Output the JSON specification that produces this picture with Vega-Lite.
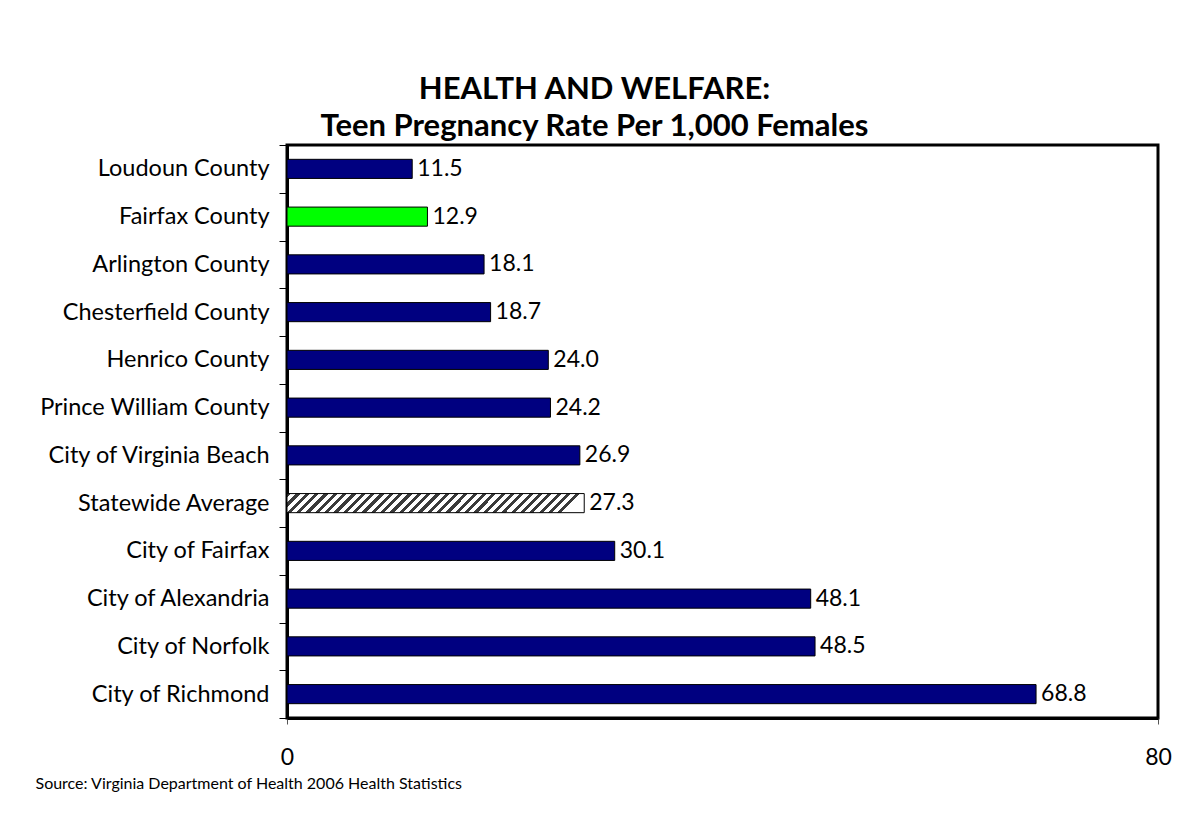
{
  "$schema": "https://vega.github.io/schema/vega-lite/v6.json",
  "width": 871,
  "height": 573,
  "autosize": {"type": "none"},
  "padding": {"left": 287, "top": 145, "right": 30, "bottom": 98},
  "background": "white",
  "title": {
    "text": ["HEALTH AND WELFARE:", "Teen Pregnancy Rate Per 1,000 Females"],
    "font": "Lato",
    "fontSize": 31,
    "fontWeight": "bold",
    "color": "black",
    "anchor": "middle",
    "frame": "group",
    "dx": -128,
    "lineHeight": 37,
    "offset": -10
  },
  "data": {
    "values": [
      {"name": "Loudoun County", "rate": 11.5},
      {"name": "Fairfax County", "rate": 12.9},
      {"name": "Arlington County", "rate": 18.1},
      {"name": "Chesterfield County", "rate": 18.7},
      {"name": "Henrico County", "rate": 24.0},
      {"name": "Prince William County", "rate": 24.2},
      {"name": "City of Virginia Beach", "rate": 26.9},
      {"name": "Statewide Average", "rate": 27.3},
      {"name": "City of Fairfax", "rate": 30.1},
      {"name": "City of Alexandria", "rate": 48.1},
      {"name": "City of Norfolk", "rate": 48.5},
      {"name": "City of Richmond", "rate": 68.8}
    ]
  },
  "encoding": {
    "y": {
      "field": "name",
      "type": "nominal",
      "sort": ["Loudoun County", "Fairfax County", "Arlington County", "Chesterfield County", "Henrico County", "Prince William County", "City of Virginia Beach", "Statewide Average", "City of Fairfax", "City of Alexandria", "City of Norfolk", "City of Richmond"],
      "scale": {"paddingInner": 0, "paddingOuter": 0},
      "axis": {
        "title": null,
        "tickBand": "extent",
        "tickSize": 8,
        "tickColor": "black",
        "tickWidth": 1,
        "domainColor": "black",
        "domainWidth": 3,
        "labelFont": "Lato",
        "labelFontSize": 23.5,
        "labelColor": "black",
        "labelPadding": 10,
        "labelLimit": 400,
        "grid": false
      }
    },
    "x": {
      "field": "rate",
      "type": "quantitative",
      "scale": {"domain": [0, 80], "nice": false, "zero": true},
      "axis": {
        "values": [0, 80],
        "grid": false,
        "tickSize": 6,
        "tickColor": "#555",
        "tickWidth": 1,
        "domainColor": "black",
        "domainWidth": 3,
        "labelFont": "Lato",
        "labelFontSize": 23,
        "labelColor": "black",
        "labelPadding": 22,
        "labelFlush": false,
        "title": "Source: Virginia Department of Health 2006 Health Statistics",
        "titleFont": "Lato",
        "titleFontSize": 16,
        "titleFontWeight": "normal",
        "titleColor": "black",
        "titleAnchor": "start",
        "titleAlign": "left",
        "titleBaseline": "middle",
        "titleX": -252,
        "titleY": 65
      }
    }
  },
  "layer": [
    {
      "transform": [{"filter": "datum.name !== 'Statewide Average'"}],
      "mark": {"type": "bar", "stroke": "black", "strokeWidth": 1, "height": {"band": 0.4}},
      "encoding": {
        "fill": {
          "condition": {"test": "datum.name === 'Fairfax County'", "value": "#00FF00"},
          "value": "#000080"
        }
      }
    },
    {
      "transform": [{"filter": "datum.name === 'Statewide Average'"}],
      "mark": {
        "type": "bar",
        "stroke": "black",
        "strokeWidth": 1,
        "height": {"band": 0.4},
        "fill": {
          "gradient": "linear",
          "x1": 0, "y1": 0, "x2": 1, "y2": 0.064,
          "stops": [
            {"offset": 0, "color": "#3a3a3a"}, {"offset": 0.0141, "color": "#3a3a3a"}, {"offset": 0.0141, "color": "white"}, {"offset": 0.0313, "color": "white"},
            {"offset": 0.0313, "color": "#3a3a3a"}, {"offset": 0.0453, "color": "#3a3a3a"}, {"offset": 0.0453, "color": "white"}, {"offset": 0.0625, "color": "white"},
            {"offset": 0.0625, "color": "#3a3a3a"}, {"offset": 0.0766, "color": "#3a3a3a"}, {"offset": 0.0766, "color": "white"}, {"offset": 0.0938, "color": "white"},
            {"offset": 0.0938, "color": "#3a3a3a"}, {"offset": 0.1078, "color": "#3a3a3a"}, {"offset": 0.1078, "color": "white"}, {"offset": 0.125, "color": "white"},
            {"offset": 0.125, "color": "#3a3a3a"}, {"offset": 0.1391, "color": "#3a3a3a"}, {"offset": 0.1391, "color": "white"}, {"offset": 0.1563, "color": "white"},
            {"offset": 0.1563, "color": "#3a3a3a"}, {"offset": 0.1703, "color": "#3a3a3a"}, {"offset": 0.1703, "color": "white"}, {"offset": 0.1875, "color": "white"},
            {"offset": 0.1875, "color": "#3a3a3a"}, {"offset": 0.2016, "color": "#3a3a3a"}, {"offset": 0.2016, "color": "white"}, {"offset": 0.2188, "color": "white"},
            {"offset": 0.2188, "color": "#3a3a3a"}, {"offset": 0.2328, "color": "#3a3a3a"}, {"offset": 0.2328, "color": "white"}, {"offset": 0.25, "color": "white"},
            {"offset": 0.25, "color": "#3a3a3a"}, {"offset": 0.2641, "color": "#3a3a3a"}, {"offset": 0.2641, "color": "white"}, {"offset": 0.2813, "color": "white"},
            {"offset": 0.2813, "color": "#3a3a3a"}, {"offset": 0.2953, "color": "#3a3a3a"}, {"offset": 0.2953, "color": "white"}, {"offset": 0.3125, "color": "white"},
            {"offset": 0.3125, "color": "#3a3a3a"}, {"offset": 0.3266, "color": "#3a3a3a"}, {"offset": 0.3266, "color": "white"}, {"offset": 0.3438, "color": "white"},
            {"offset": 0.3438, "color": "#3a3a3a"}, {"offset": 0.3578, "color": "#3a3a3a"}, {"offset": 0.3578, "color": "white"}, {"offset": 0.375, "color": "white"},
            {"offset": 0.375, "color": "#3a3a3a"}, {"offset": 0.3891, "color": "#3a3a3a"}, {"offset": 0.3891, "color": "white"}, {"offset": 0.4063, "color": "white"},
            {"offset": 0.4063, "color": "#3a3a3a"}, {"offset": 0.4203, "color": "#3a3a3a"}, {"offset": 0.4203, "color": "white"}, {"offset": 0.4375, "color": "white"},
            {"offset": 0.4375, "color": "#3a3a3a"}, {"offset": 0.4516, "color": "#3a3a3a"}, {"offset": 0.4516, "color": "white"}, {"offset": 0.4688, "color": "white"},
            {"offset": 0.4688, "color": "#3a3a3a"}, {"offset": 0.4828, "color": "#3a3a3a"}, {"offset": 0.4828, "color": "white"}, {"offset": 0.5, "color": "white"},
            {"offset": 0.5, "color": "#3a3a3a"}, {"offset": 0.5141, "color": "#3a3a3a"}, {"offset": 0.5141, "color": "white"}, {"offset": 0.5313, "color": "white"},
            {"offset": 0.5313, "color": "#3a3a3a"}, {"offset": 0.5453, "color": "#3a3a3a"}, {"offset": 0.5453, "color": "white"}, {"offset": 0.5625, "color": "white"},
            {"offset": 0.5625, "color": "#3a3a3a"}, {"offset": 0.5766, "color": "#3a3a3a"}, {"offset": 0.5766, "color": "white"}, {"offset": 0.5938, "color": "white"},
            {"offset": 0.5938, "color": "#3a3a3a"}, {"offset": 0.6078, "color": "#3a3a3a"}, {"offset": 0.6078, "color": "white"}, {"offset": 0.625, "color": "white"},
            {"offset": 0.625, "color": "#3a3a3a"}, {"offset": 0.6391, "color": "#3a3a3a"}, {"offset": 0.6391, "color": "white"}, {"offset": 0.6563, "color": "white"},
            {"offset": 0.6563, "color": "#3a3a3a"}, {"offset": 0.6703, "color": "#3a3a3a"}, {"offset": 0.6703, "color": "white"}, {"offset": 0.6875, "color": "white"},
            {"offset": 0.6875, "color": "#3a3a3a"}, {"offset": 0.7016, "color": "#3a3a3a"}, {"offset": 0.7016, "color": "white"}, {"offset": 0.7188, "color": "white"},
            {"offset": 0.7188, "color": "#3a3a3a"}, {"offset": 0.7328, "color": "#3a3a3a"}, {"offset": 0.7328, "color": "white"}, {"offset": 0.75, "color": "white"},
            {"offset": 0.75, "color": "#3a3a3a"}, {"offset": 0.7641, "color": "#3a3a3a"}, {"offset": 0.7641, "color": "white"}, {"offset": 0.7813, "color": "white"},
            {"offset": 0.7813, "color": "#3a3a3a"}, {"offset": 0.7953, "color": "#3a3a3a"}, {"offset": 0.7953, "color": "white"}, {"offset": 0.8125, "color": "white"},
            {"offset": 0.8125, "color": "#3a3a3a"}, {"offset": 0.8266, "color": "#3a3a3a"}, {"offset": 0.8266, "color": "white"}, {"offset": 0.8438, "color": "white"},
            {"offset": 0.8438, "color": "#3a3a3a"}, {"offset": 0.8578, "color": "#3a3a3a"}, {"offset": 0.8578, "color": "white"}, {"offset": 0.875, "color": "white"},
            {"offset": 0.875, "color": "#3a3a3a"}, {"offset": 0.8891, "color": "#3a3a3a"}, {"offset": 0.8891, "color": "white"}, {"offset": 0.9063, "color": "white"},
            {"offset": 0.9063, "color": "#3a3a3a"}, {"offset": 0.9203, "color": "#3a3a3a"}, {"offset": 0.9203, "color": "white"}, {"offset": 0.9375, "color": "white"},
            {"offset": 0.9375, "color": "#3a3a3a"}, {"offset": 0.9516, "color": "#3a3a3a"}, {"offset": 0.9516, "color": "white"}, {"offset": 0.9688, "color": "white"},
            {"offset": 0.9688, "color": "#3a3a3a"}, {"offset": 0.9828, "color": "#3a3a3a"}, {"offset": 0.9828, "color": "white"}, {"offset": 1, "color": "white"}
          ]
        }
      }
    },
    {
      "mark": {"type": "text", "align": "left", "baseline": "middle", "dx": 5, "font": "Lato", "fontSize": 23, "color": "black"},
      "encoding": {
        "text": {"field": "rate", "type": "quantitative", "format": ".1f"}
      }
    }
  ],
  "config": {
    "view": {"stroke": "black", "strokeWidth": 3}
  }
}
